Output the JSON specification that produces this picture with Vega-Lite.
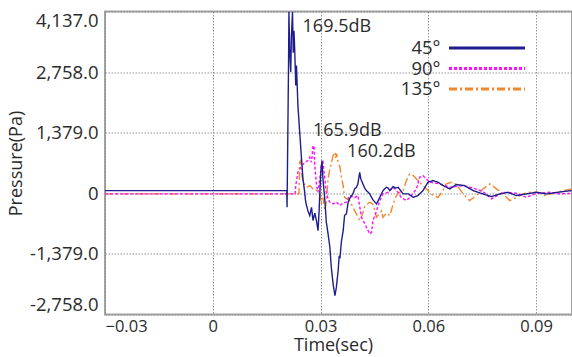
{
  "$schema": "https://vega.github.io/schema/vega-lite/v6.json",
  "autosize": "none",
  "width": 467,
  "height": 303,
  "padding": {"left": 105, "top": 11.5, "right": 0, "bottom": 42.5},
  "background": "white",
  "config": {
    "font": "Open Sans",
    "view": {"stroke": "#a3a3a3", "strokeWidth": 2},
    "axis": {
      "labelFont": "Open Sans", "labelFontSize": 17, "labelColor": "#2b2b2b",
      "titleFont": "Open Sans", "titleFontSize": 18, "titleFontWeight": "normal", "titleColor": "#2b2b2b",
      "domain": false, "ticks": false,
      "gridColor": "#8a8a8a", "gridDash": [1.5, 1.5], "gridWidth": 1, "gridOpacity": 0.9
    },
    "legend": {
      "orient": "none", "legendX": 344, "legendY": 27, "title": null,
      "symbolType": "M-4.75,0H4.75", "symbolSize": 256, "symbolStrokeWidth": 3, "symbolOffset": 28.5,
      "labelAlign": "right", "labelOffset": -56, "labelFontSize": 18.5, "labelFont": "Open Sans", "labelColor": "#2b2b2b",
      "rowPadding": 1.5, "padding": 0
    }
  },
  "datasets": {
    "curves": [
      {"s": "135°", "t": -0.03, "p": -14}, {"s": "135°", "t": 0.024, "p": -14}, {"s": "135°", "t": 0.0242, "p": 706}, {"s": "135°", "t": 0.0245, "p": 745}, {"s": "135°", "t": 0.0247, "p": 479}, {"s": "135°", "t": 0.0251, "p": 251}, {"s": "135°", "t": 0.0261, "p": 137}, {"s": "135°", "t": 0.027, "p": 175}, {"s": "135°", "t": 0.0279, "p": 100}, {"s": "135°", "t": 0.0289, "p": 61}, {"s": "135°", "t": 0.0298, "p": 20}, {"s": "135°", "t": 0.0302, "p": -242}, {"s": "135°", "t": 0.0307, "p": -100}, {"s": "135°", "t": 0.0312, "p": -394}, {"s": "135°", "t": 0.0316, "p": -200}, {"s": "135°", "t": 0.0321, "p": 328}, {"s": "135°", "t": 0.0326, "p": 556}, {"s": "135°", "t": 0.033, "p": 670}, {"s": "135°", "t": 0.0335, "p": 859}, {"s": "135°", "t": 0.034, "p": 934}, {"s": "135°", "t": 0.0342, "p": 800}, {"s": "135°", "t": 0.0345, "p": 900}, {"s": "135°", "t": 0.0349, "p": 700}, {"s": "135°", "t": 0.0354, "p": 593}, {"s": "135°", "t": 0.0358, "p": 365}, {"s": "135°", "t": 0.0363, "p": 175}, {"s": "135°", "t": 0.0367, "p": -91}, {"s": "135°", "t": 0.0381, "p": -166}, {"s": "135°", "t": 0.039, "p": -319}, {"s": "135°", "t": 0.04, "p": -470}, {"s": "135°", "t": 0.0409, "p": -622}, {"s": "135°", "t": 0.0414, "p": -547}, {"s": "135°", "t": 0.0423, "p": -300}, {"s": "135°", "t": 0.0437, "p": -200}, {"s": "135°", "t": 0.0446, "p": -250}, {"s": "135°", "t": 0.0456, "p": -547}, {"s": "135°", "t": 0.047, "p": -400}, {"s": "135°", "t": 0.0474, "p": -547}, {"s": "135°", "t": 0.0483, "p": -450}, {"s": "135°", "t": 0.0493, "p": -508}, {"s": "135°", "t": 0.0502, "p": -250}, {"s": "135°", "t": 0.0511, "p": -52}, {"s": "135°", "t": 0.0521, "p": 30}, {"s": "135°", "t": 0.053, "p": 61}, {"s": "135°", "t": 0.0539, "p": 289}, {"s": "135°", "t": 0.0548, "p": 442}, {"s": "135°", "t": 0.0558, "p": 403}, {"s": "135°", "t": 0.0571, "p": 289}, {"s": "135°", "t": 0.0585, "p": 175}, {"s": "135°", "t": 0.0599, "p": 61}, {"s": "135°", "t": 0.0613, "p": -52}, {"s": "135°", "t": 0.0627, "p": -91}, {"s": "135°", "t": 0.0641, "p": 61}, {"s": "135°", "t": 0.065, "p": 214}, {"s": "135°", "t": 0.0664, "p": 251}, {"s": "135°", "t": 0.0678, "p": 200}, {"s": "135°", "t": 0.0697, "p": -14}, {"s": "135°", "t": 0.0715, "p": -166}, {"s": "135°", "t": 0.0734, "p": -50}, {"s": "135°", "t": 0.0752, "p": 100}, {"s": "135°", "t": 0.0771, "p": 214}, {"s": "135°", "t": 0.079, "p": 100}, {"s": "135°", "t": 0.0808, "p": -14}, {"s": "135°", "t": 0.0827, "p": -166}, {"s": "135°", "t": 0.0845, "p": -100}, {"s": "135°", "t": 0.0864, "p": -14}, {"s": "135°", "t": 0.0882, "p": 23}, {"s": "135°", "t": 0.0905, "p": 23}, {"s": "135°", "t": 0.0924, "p": -52}, {"s": "135°", "t": 0.0947, "p": 0}, {"s": "135°", "t": 0.0975, "p": 61}, {"s": "135°", "t": 0.0999, "p": 100},

      {"s": "90°", "t": -0.03, "p": -14}, {"s": "90°", "t": 0.0229, "p": -14}, {"s": "90°", "t": 0.0231, "p": 175}, {"s": "90°", "t": 0.0234, "p": 328}, {"s": "90°", "t": 0.0237, "p": 479}, {"s": "90°", "t": 0.0245, "p": 600}, {"s": "90°", "t": 0.0256, "p": 700}, {"s": "90°", "t": 0.0265, "p": 745}, {"s": "90°", "t": 0.027, "p": 820}, {"s": "90°", "t": 0.0275, "p": 706}, {"s": "90°", "t": 0.0279, "p": 1087}, {"s": "90°", "t": 0.0282, "p": 1050}, {"s": "90°", "t": 0.0284, "p": 631}, {"s": "90°", "t": 0.0289, "p": 175}, {"s": "90°", "t": 0.0293, "p": 23}, {"s": "90°", "t": 0.0298, "p": 328}, {"s": "90°", "t": 0.0302, "p": 631}, {"s": "90°", "t": 0.0307, "p": 706}, {"s": "90°", "t": 0.0312, "p": 328}, {"s": "90°", "t": 0.0316, "p": 23}, {"s": "90°", "t": 0.0321, "p": -128}, {"s": "90°", "t": 0.0326, "p": -205}, {"s": "90°", "t": 0.0335, "p": -242}, {"s": "90°", "t": 0.0344, "p": -200}, {"s": "90°", "t": 0.0354, "p": -280}, {"s": "90°", "t": 0.0363, "p": -220}, {"s": "90°", "t": 0.0372, "p": -200}, {"s": "90°", "t": 0.0381, "p": -52}, {"s": "90°", "t": 0.0395, "p": -100}, {"s": "90°", "t": 0.0404, "p": -52}, {"s": "90°", "t": 0.0414, "p": -547}, {"s": "90°", "t": 0.0428, "p": -775}, {"s": "90°", "t": 0.0437, "p": -925}, {"s": "90°", "t": 0.0442, "p": -889}, {"s": "90°", "t": 0.0446, "p": -622}, {"s": "90°", "t": 0.0456, "p": -394}, {"s": "90°", "t": 0.0465, "p": -166}, {"s": "90°", "t": 0.0474, "p": -14}, {"s": "90°", "t": 0.0488, "p": 23}, {"s": "90°", "t": 0.0502, "p": 137}, {"s": "90°", "t": 0.0512, "p": 60}, {"s": "90°", "t": 0.0525, "p": -100}, {"s": "90°", "t": 0.0539, "p": -166}, {"s": "90°", "t": 0.0548, "p": -100}, {"s": "90°", "t": 0.0567, "p": 100}, {"s": "90°", "t": 0.0576, "p": 365}, {"s": "90°", "t": 0.0585, "p": 403}, {"s": "90°", "t": 0.0604, "p": 251}, {"s": "90°", "t": 0.0632, "p": 214}, {"s": "90°", "t": 0.066, "p": 137}, {"s": "90°", "t": 0.0697, "p": 175}, {"s": "90°", "t": 0.0725, "p": 120}, {"s": "90°", "t": 0.0752, "p": 40}, {"s": "90°", "t": 0.0776, "p": -128}, {"s": "90°", "t": 0.0808, "p": 23}, {"s": "90°", "t": 0.0845, "p": 0}, {"s": "90°", "t": 0.0873, "p": -91}, {"s": "90°", "t": 0.0901, "p": 0}, {"s": "90°", "t": 0.0938, "p": 23}, {"s": "90°", "t": 0.0966, "p": -14}, {"s": "90°", "t": 0.0999, "p": 0},

      {"s": "45°", "t": -0.03, "p": 61}, {"s": "45°", "t": 0.0206, "p": 61}, {"s": "45°", "t": 0.02068, "p": -319}, {"s": "45°", "t": 0.0209, "p": 1400}, {"s": "45°", "t": 0.0211, "p": 3000}, {"s": "45°", "t": 0.0212, "p": 4130}, {"s": "45°", "t": 0.0214, "p": 3300}, {"s": "45°", "t": 0.0217, "p": 2758}, {"s": "45°", "t": 0.0219, "p": 3600}, {"s": "45°", "t": 0.0222, "p": 4130}, {"s": "45°", "t": 0.0224, "p": 3200}, {"s": "45°", "t": 0.0226, "p": 3700}, {"s": "45°", "t": 0.0228, "p": 3300}, {"s": "45°", "t": 0.0231, "p": 2455}, {"s": "45°", "t": 0.0233, "p": 2910}, {"s": "45°", "t": 0.0237, "p": 2000}, {"s": "45°", "t": 0.0242, "p": 1390}, {"s": "45°", "t": 0.0247, "p": 790}, {"s": "45°", "t": 0.0251, "p": 335}, {"s": "45°", "t": 0.0256, "p": 16}, {"s": "45°", "t": 0.0258, "p": -150}, {"s": "45°", "t": 0.0261, "p": -280}, {"s": "45°", "t": 0.0265, "p": -400}, {"s": "45°", "t": 0.027, "p": -508}, {"s": "45°", "t": 0.0275, "p": -320}, {"s": "45°", "t": 0.0279, "p": -620}, {"s": "45°", "t": 0.0284, "p": -450}, {"s": "45°", "t": 0.0289, "p": -640}, {"s": "45°", "t": 0.0293, "p": -850}, {"s": "45°", "t": 0.0296, "p": -400}, {"s": "45°", "t": 0.0298, "p": 0}, {"s": "45°", "t": 0.0301, "p": 500}, {"s": "45°", "t": 0.0304, "p": 745}, {"s": "45°", "t": 0.0307, "p": 300}, {"s": "45°", "t": 0.0312, "p": -150}, {"s": "45°", "t": 0.0316, "p": -650}, {"s": "45°", "t": 0.0321, "p": -925}, {"s": "45°", "t": 0.0326, "p": -1230}, {"s": "45°", "t": 0.033, "p": -1686}, {"s": "45°", "t": 0.0335, "p": -2065}, {"s": "45°", "t": 0.034, "p": -2331}, {"s": "45°", "t": 0.0344, "p": -2142}, {"s": "45°", "t": 0.0349, "p": -1762}, {"s": "45°", "t": 0.0352, "p": -1420}, {"s": "45°", "t": 0.0354, "p": -1480}, {"s": "45°", "t": 0.0358, "p": -1100}, {"s": "45°", "t": 0.0363, "p": -851}, {"s": "45°", "t": 0.0367, "p": -500}, {"s": "45°", "t": 0.0372, "p": -470}, {"s": "45°", "t": 0.0377, "p": -200}, {"s": "45°", "t": 0.0381, "p": -120}, {"s": "45°", "t": 0.039, "p": -14}, {"s": "45°", "t": 0.0395, "p": 100}, {"s": "45°", "t": 0.04, "p": 137}, {"s": "45°", "t": 0.0404, "p": 214}, {"s": "45°", "t": 0.0409, "p": 479}, {"s": "45°", "t": 0.0412, "p": 328}, {"s": "45°", "t": 0.0418, "p": 214}, {"s": "45°", "t": 0.0424, "p": 100}, {"s": "45°", "t": 0.0428, "p": 61}, {"s": "45°", "t": 0.0437, "p": -14}, {"s": "45°", "t": 0.0442, "p": -91}, {"s": "45°", "t": 0.0446, "p": -150}, {"s": "45°", "t": 0.0456, "p": -242}, {"s": "45°", "t": 0.0465, "p": -91}, {"s": "45°", "t": 0.0474, "p": 61}, {"s": "45°", "t": 0.0483, "p": 137}, {"s": "45°", "t": 0.0488, "p": 120}, {"s": "45°", "t": 0.0493, "p": 61}, {"s": "45°", "t": 0.0502, "p": 153}, {"s": "45°", "t": 0.0509, "p": 120}, {"s": "45°", "t": 0.0516, "p": 137}, {"s": "45°", "t": 0.053, "p": -14}, {"s": "45°", "t": 0.0544, "p": -14}, {"s": "45°", "t": 0.0558, "p": -91}, {"s": "45°", "t": 0.0571, "p": -52}, {"s": "45°", "t": 0.0585, "p": 61}, {"s": "45°", "t": 0.0599, "p": 251}, {"s": "45°", "t": 0.0613, "p": 289}, {"s": "45°", "t": 0.0627, "p": 251}, {"s": "45°", "t": 0.064, "p": 180}, {"s": "45°", "t": 0.066, "p": 100}, {"s": "45°", "t": 0.0678, "p": 198}, {"s": "45°", "t": 0.0701, "p": 175}, {"s": "45°", "t": 0.0725, "p": 61}, {"s": "45°", "t": 0.0752, "p": -14}, {"s": "45°", "t": 0.0776, "p": -75}, {"s": "45°", "t": 0.0799, "p": -14}, {"s": "45°", "t": 0.0822, "p": 23}, {"s": "45°", "t": 0.0845, "p": -52}, {"s": "45°", "t": 0.0873, "p": -14}, {"s": "45°", "t": 0.0901, "p": 23}, {"s": "45°", "t": 0.0929, "p": -14}, {"s": "45°", "t": 0.0966, "p": 30}, {"s": "45°", "t": 0.0999, "p": 61}
    ],
    "notes": [
      {"t": 0.025, "p": 3783, "label": "169.5dB"},
      {"t": 0.0279, "p": 1429, "label": "165.9dB"},
      {"t": 0.0374, "p": 934, "label": "160.2dB"}
    ]
  },
  "layer": [
    {
      "data": {"name": "curves"},
      "mark": {"type": "line", "strokeWidth": 1.4, "clip": true},
      "encoding": {
        "x": {"field": "t", "type": "quantitative", "title": "Time(sec)",
          "scale": {"domain": [-0.03, 0.1], "nice": false, "zero": false},
          "axis": {"values": [-0.03, 0, 0.03, 0.06, 0.09], "labelFontSize": 16.5, "labelPadding": 4, "titlePadding": 1, "titleX": 228,
            "labelExpr": "datum.value == 0 ? '0' : format(datum.value, '.2f')"}},
        "y": {"field": "p", "type": "quantitative", "title": "Pressure(Pa)",
          "scale": {"domain": [-2758, 4137], "nice": false, "zero": false},
          "axis": {"values": [-2758, -1379, 0, 1379, 2758, 4137], "labelFontSize": 18.5, "labelPadding": 7, "titlePadding": 4, "labelFlush": true,
            "labelExpr": "datum.value == 0 ? '0' : replace(format(datum.value, ',.1f'), '\u2212', '-')"}},
        "color": {"field": "s", "type": "nominal",
          "scale": {"domain": ["45°", "90°", "135°"], "range": ["#1e1e8e", "#ff10ff", "#f2862c"]}},
        "strokeDash": {"field": "s", "type": "nominal",
          "scale": {"domain": ["45°", "90°", "135°"], "range": [[1, 0], [3, 2], [8, 3, 2, 3]]}},
        "order": {"field": "t", "type": "quantitative"}
      }
    },
    {
      "data": {"name": "notes"},
      "mark": {"type": "text", "align": "left", "baseline": "middle", "fontSize": 18, "font": "Open Sans", "color": "#2b2b2b"},
      "encoding": {
        "x": {"field": "t", "type": "quantitative"},
        "y": {"field": "p", "type": "quantitative"},
        "text": {"field": "label"}
      }
    }
  ]
}
